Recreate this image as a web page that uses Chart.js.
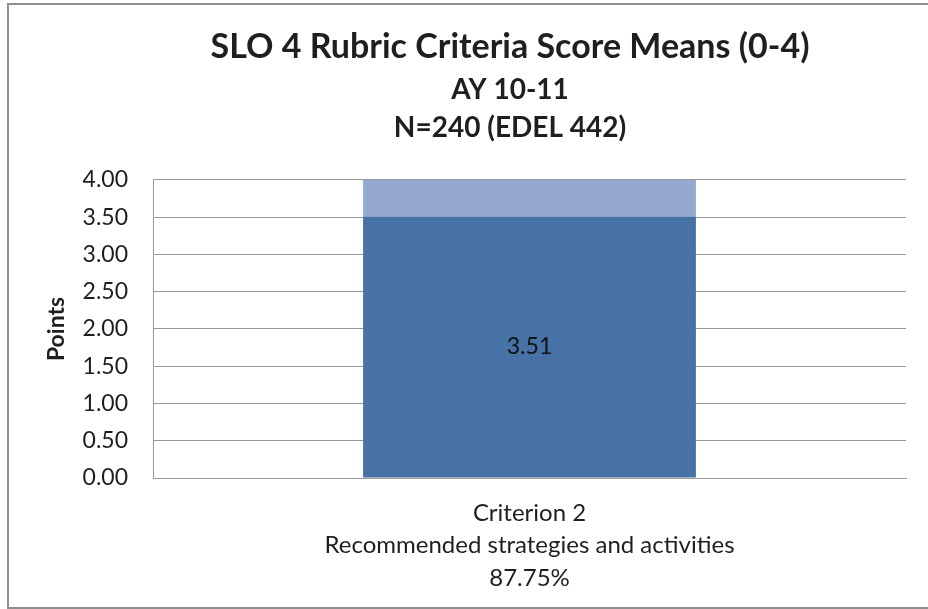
<!DOCTYPE html>
<html lang="en">
<head>
  <meta charset="UTF-8" />
  <title>SLO 4 Rubric Criteria Score Means</title>
  <script src="https://cdn.jsdelivr.net/npm/chart.js"></script>
  <style>
    body {
      margin: 0;
      background: #ffffff;
      overflow: hidden;
    }
    #frame {
      position: absolute;
      left: 7px;
      top: 3px;
      width: 1004px;
      height: 602px;
      border: 2px solid #8f8f8f;
    }
    #chart {
      position: absolute;
      left: 0;
      top: 0;
    }
  </style>
</head>
<body>
  <div id="frame"></div>
  <canvas id="chart" width="1020" height="609"></canvas>

  <script>
    // data
    const categories = [['Criterion 2', 'Recommended strategies and activities', '87.75%']];
    const meanScores = [3.51];
    const maxScore = 4;
    const remainder = meanScores.map(v => +(maxScore - v).toFixed(2));
    const yTickLabels = ['0.00', '0.50', '1.00', '1.50', '2.00', '2.50', '3.00', '3.50', '4.00'];

    const titleLines = ['SLO 4 Rubric Criteria Score Means (0-4)'];
    const subtitleLines = ['AY 10-11', 'N=240 (EDEL 442)'];

    const FONT = 'Lato';
    const TEXT = '#1f1f1f';
    const GRID = '#9a9a9a';

    // value label in the middle of the dark segment
    const barLabels = {
      id: 'barLabels',
      afterDatasetsDraw(chart) {
        const ctx = chart.ctx;
        const meta = chart.getDatasetMeta(0);
        ctx.save();
        ctx.font = '23px ' + FONT;
        ctx.fillStyle = '#111111';
        ctx.textAlign = 'center';
        ctx.textBaseline = 'middle';
        meta.data.forEach((bar, i) => {
          const p = bar.getCenterPoint();
          ctx.fillText(meanScores[i].toFixed(2), p.x, p.y);
        });
        ctx.restore();
      }
    };

    const ctx = document.getElementById('chart').getContext('2d');
    new Chart(ctx, {
      type: 'bar',
      data: {
        labels: categories,
        datasets: [
          { label: 'Mean', data: meanScores, backgroundColor: '#4672a6', borderWidth: 0 },
          { label: 'Remaining', data: remainder, backgroundColor: '#95a9d0', borderWidth: 0 }
        ]
      },
      options: {
        responsive: false,
        animation: false,
        devicePixelRatio: 1,
        categoryPercentage: 1,
        barPercentage: 0.442,
        layout: { padding: { left: 0, right: 0, top: 0, bottom: 15 } },
        plugins: {
          legend: { display: false },
          tooltip: { enabled: false },
          title: {
            display: true,
            text: titleLines,
            color: TEXT,
            font: { family: FONT, size: 34, weight: 'bold', lineHeight: 1.2 },
            padding: { top: 27, bottom: 3 }
          },
          subtitle: {
            display: true,
            text: subtitleLines,
            color: TEXT,
            font: { family: FONT, size: 28, weight: 'bold', lineHeight: 1.36 },
            padding: { top: 0, bottom: 33 }
          }
        },
        scales: {
          x: {
            stacked: true,
            afterFit(scale) { scale.height = 116; },
            grid: { display: false, drawTicks: false },
            border: { display: true, color: GRID, width: 1 },
            ticks: {
              color: TEXT,
              padding: 19,
              maxRotation: 0,
              font: { family: FONT, size: 24, lineHeight: 1.35 }
            }
          },
          y: {
            stacked: true,
            min: 0,
            max: maxScore,
            afterFit(scale) { scale.width = 153; },
            grid: { color: GRID, lineWidth: 1, drawTicks: false },
            border: { display: true, color: GRID, width: 1 },
            ticks: {
              stepSize: 0.5,
              color: TEXT,
              padding: 25,
              font: { family: FONT, size: 23 },
              callback: (v, i) => yTickLabels[i]
            },
            title: {
              display: true,
              text: 'Points',
              color: TEXT,
              font: { family: FONT, size: 23, weight: 'bold', lineHeight: 1.2 },
              padding: { top: 43, bottom: 0 }
            }
          },
          // empty right-hand band so the title centres on the full chart frame
          yRight: {
            type: 'linear',
            position: 'right',
            display: true,
            afterFit(scale) { scale.width = 114; },
            grid: { display: false },
            border: { display: false },
            ticks: { display: false }
          }
        }
      },
      plugins: [barLabels]
    });
  </script>
</body>
</html>
